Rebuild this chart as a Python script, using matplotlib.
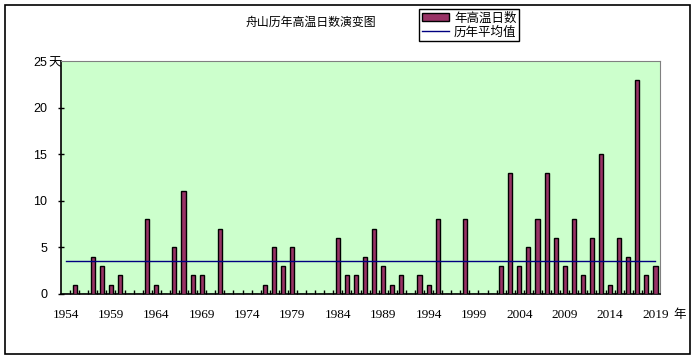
import numpy as np
import matplotlib
matplotlib.use("Agg")
import matplotlib.pyplot as plt
import matplotlib.transforms as mtransforms
from matplotlib.patches import Rectangle

plt.rcParams['font.family'] = ['Noto Sans CJK SC', 'DejaVu Sans']

years = list(range(1954, 2020))
hot_days = [0, 1, 0, 4, 3, 1, 2, 0, 0, 8,   # 1954-1963
            1, 0, 5, 11, 2, 2, 0, 7, 0, 0,  # 1964-1973
            0, 0, 1, 5, 3, 5, 0, 0, 0, 0,   # 1974-1983
            6, 2, 2, 4, 7, 3, 1, 2, 0, 2,   # 1984-1993
            1, 8, 0, 0, 8, 0, 0, 0, 3, 13,  # 1994-2003
            3, 5, 8, 13, 6, 3, 8, 2, 6, 15, # 2004-2013
            1, 6, 4, 23, 2, 3]              # 2014-2019
avg_days = 3.5
title = "舟山历年高温日数演变图"
bar_label = "年高温日数"
line_label = "历年平均值"

fig = plt.figure(figsize=(6.96, 3.6), dpi=100)
# outer chart border
fig.patches.append(Rectangle((5 / 696, 1 - 354 / 360), 685 / 696, 349 / 360,
                             transform=fig.transFigure, fill=False,
                             edgecolor='black', linewidth=1.2))

ax = fig.add_axes([61 / 696, 1 - 294 / 360, 599 / 696, 233 / 360])
ax.set_facecolor('#CCFFCC')

x = np.arange(len(years))
bars = ax.bar(x, hot_days, width=0.45, color='#993366', edgecolor='black',
              linewidth=1.0, label=bar_label, zorder=3)
ln, = ax.plot([x[0], x[-1]], [avg_days, avg_days], color='#000080',
              linewidth=1.0, label=line_label, zorder=4)

ax.set_xlim(-0.5, len(years) - 0.5)
ax.set_ylim(0, 25)

ax.set_yticks([0, 5, 10, 15, 20, 25])
ax.set_yticklabels(['0', '5', '10', '15', '20', '25'], fontsize=9,
                   family=['Liberation Sans', 'DejaVu Sans'])
ax.tick_params(axis='y', direction='inout', length=4, width=1, pad=8)
ax.yaxis.get_major_ticks()[-1].tick1line.set_visible(False)

ax.set_xticks(x[::5])
ax.set_xticklabels([str(y) for y in years[::5]], fontsize=9.5,
                   family=['Liberation Serif', 'DejaVu Serif'])
ax.tick_params(axis='x', which='major', length=0, pad=11)
ax.set_xticks(x[:-1] + 0.5, minor=True)
ax.tick_params(axis='x', which='minor', direction='in', length=3, width=1)

for side in ['top', 'right']:
    ax.spines[side].set_color('#808080')
for side in ['left', 'bottom']:
    ax.spines[side].set_color('black')
    ax.spines[side].set_linewidth(1.2)

# unit labels
unit_tf = mtransforms.blended_transform_factory(fig.transFigure, ax.transData)
ax.text(48 / 696, 25, "天", transform=unit_tf, ha='left',
        va='center_baseline', fontsize=9, clip_on=False)
ax.text(680 / 696, 1 - 313 / 360, "年", transform=fig.transFigure,
        ha='center', va='center_baseline', fontsize=9)

fig.text(311 / 696, 1 - 22 / 360, title, ha='center', va='center',
         fontsize=8.6)

leg = fig.legend(handles=[bars, ln], labels=[bar_label, line_label],
                 loc='center', bbox_to_anchor=(469 / 696, 1 - 25 / 360),
                 fontsize=9, frameon=True, fancybox=False, framealpha=1,
                 edgecolor='black', borderpad=0.2, labelspacing=0.1,
                 handlelength=2.2, handletextpad=0.4, borderaxespad=0)
leg.get_frame().set_linewidth(1.0)

fig.savefig("out.png", dpi=100)
